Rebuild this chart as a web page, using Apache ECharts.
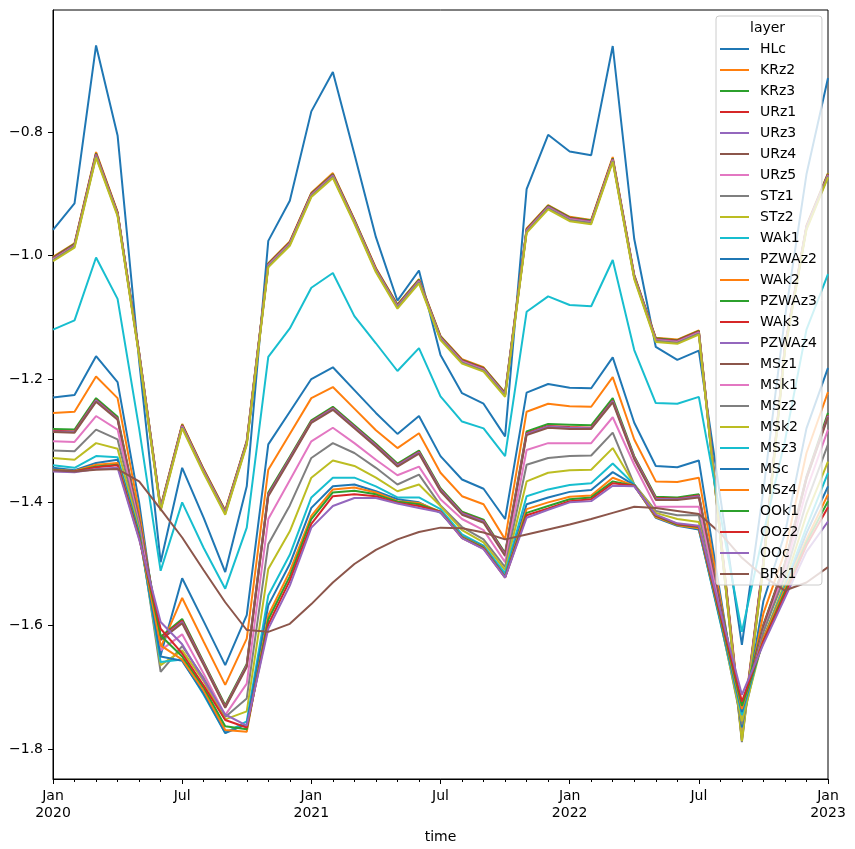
<!DOCTYPE html>
<html>
<head>
<meta charset="utf-8">
<script src="https://cdn.jsdelivr.net/npm/echarts@6/dist/echarts.min.js"></script>
<style>
  html, body { margin: 0; padding: 0; background: #fff; }
  #chart { width: 855px; height: 849px; }
</style>
</head>
<body>
<div id="chart"></div>
<script>
// monthly time axis, Jan 2020 .. Jan 2023
const months = [
  '2020-01','2020-02','2020-03','2020-04','2020-05','2020-06','2020-07','2020-08','2020-09','2020-10','2020-11','2020-12',
  '2021-01','2021-02','2021-03','2021-04','2021-05','2021-06','2021-07','2021-08','2021-09','2021-10','2021-11','2021-12',
  '2022-01','2022-02','2022-03','2022-04','2022-05','2022-06','2022-07','2022-08','2022-09','2022-10','2022-11','2022-12',
  '2023-01'
]
const xLabels = [
  'Jan\n2020','','','','','','Jul','','','','','',
  'Jan\n2021','','','','','','Jul','','','','','',
  'Jan\n2022','','','','','','Jul','','','','','',
  'Jan\n2023'
]
const yTicks = [-1.8, -1.6, -1.4, -1.2, -1.0, -0.8]

const layers = ['HLc','KRz2','KRz3','URz1','URz3','URz4','URz5','STz1','STz2','WAk1','PZWAz2','WAk2','PZWAz3','WAk3','PZWAz4','MSz1','MSk1','MSz2','MSk2','MSz3','MSc','MSz4','OOk1','OOz2','OOc','BRk1']

const HLc = [-0.958,-0.915,-0.659,-0.805,-1.170,-1.497,-1.344,-1.425,-1.513,-1.374,-0.976,-0.911,-0.766,-0.702,-0.835,-0.970,-1.073,-1.024,-1.161,-1.223,-1.240,-1.293,-0.892,-0.804,-0.831,-0.837,-0.660,-0.973,-1.148,-1.169,-1.154,-1.392,-1.631,-1.380,-1.100,-0.868,-0.712]
const KRz2 = [-1.002,-0.980,-0.832,-0.929,-1.156,-1.407,-1.273,-1.346,-1.413,-1.300,-1.012,-0.977,-0.898,-0.866,-0.941,-1.020,-1.079,-1.038,-1.130,-1.168,-1.181,-1.222,-0.956,-0.918,-0.937,-0.942,-0.840,-1.031,-1.133,-1.136,-1.121,-1.448,-1.772,-1.494,-1.145,-0.951,-0.866]
const KRz3 = [-1.003,-0.981,-0.834,-0.930,-1.157,-1.408,-1.274,-1.347,-1.414,-1.301,-1.013,-0.978,-0.899,-0.868,-0.942,-1.021,-1.080,-1.039,-1.131,-1.169,-1.182,-1.223,-0.957,-0.919,-0.938,-0.943,-0.842,-1.032,-1.134,-1.137,-1.122,-1.450,-1.776,-1.496,-1.147,-0.952,-0.867]
const URz1 = [-1.004,-0.982,-0.835,-0.931,-1.158,-1.409,-1.275,-1.348,-1.415,-1.302,-1.014,-0.979,-0.900,-0.869,-0.943,-1.022,-1.081,-1.040,-1.132,-1.170,-1.183,-1.224,-0.958,-0.920,-0.939,-0.944,-0.843,-1.033,-1.135,-1.138,-1.123,-1.451,-1.778,-1.497,-1.148,-0.953,-0.868]
const URz3 = [-1.005,-0.983,-0.836,-0.932,-1.159,-1.410,-1.276,-1.349,-1.416,-1.303,-1.015,-0.980,-0.901,-0.870,-0.944,-1.023,-1.082,-1.041,-1.133,-1.171,-1.184,-1.225,-0.959,-0.921,-0.940,-0.945,-0.844,-1.034,-1.136,-1.139,-1.124,-1.453,-1.780,-1.498,-1.149,-0.954,-0.869]
const URz4 = [-1.005,-0.983,-0.837,-0.932,-1.160,-1.411,-1.277,-1.350,-1.417,-1.304,-1.016,-0.981,-0.902,-0.871,-0.945,-1.024,-1.083,-1.042,-1.134,-1.172,-1.185,-1.226,-0.960,-0.922,-0.941,-0.946,-0.845,-1.035,-1.137,-1.140,-1.125,-1.456,-1.785,-1.500,-1.150,-0.955,-0.870]
const URz5 = [-1.006,-0.984,-0.838,-0.933,-1.160,-1.411,-1.277,-1.350,-1.417,-1.304,-1.016,-0.981,-0.902,-0.871,-0.945,-1.024,-1.083,-1.042,-1.134,-1.172,-1.185,-1.226,-0.960,-0.922,-0.941,-0.946,-0.845,-1.035,-1.137,-1.140,-1.125,-1.455,-1.782,-1.501,-1.151,-0.955,-0.870]
const STz1 = [-1.007,-0.985,-0.839,-0.934,-1.161,-1.412,-1.278,-1.351,-1.418,-1.305,-1.017,-0.982,-0.903,-0.872,-0.946,-1.025,-1.084,-1.043,-1.135,-1.173,-1.186,-1.227,-0.961,-0.923,-0.942,-0.947,-0.846,-1.036,-1.138,-1.141,-1.126,-1.458,-1.789,-1.503,-1.152,-0.956,-0.871]
const STz2 = [-1.009,-0.987,-0.841,-0.936,-1.163,-1.414,-1.280,-1.353,-1.420,-1.307,-1.019,-0.984,-0.905,-0.874,-0.948,-1.027,-1.086,-1.045,-1.137,-1.175,-1.188,-1.229,-0.963,-0.925,-0.944,-0.949,-0.848,-1.038,-1.140,-1.143,-1.128,-1.457,-1.787,-1.504,-1.154,-0.958,-0.873]
const WAk1 = [-1.120,-1.105,-1.003,-1.070,-1.280,-1.511,-1.400,-1.474,-1.540,-1.441,-1.164,-1.118,-1.052,-1.028,-1.098,-1.142,-1.187,-1.150,-1.228,-1.269,-1.280,-1.325,-1.091,-1.066,-1.080,-1.082,-1.007,-1.153,-1.239,-1.240,-1.229,-1.420,-1.610,-1.450,-1.300,-1.120,-1.030]
const PZWAz2 = [-1.230,-1.226,-1.163,-1.205,-1.400,-1.648,-1.523,-1.593,-1.664,-1.583,-1.306,-1.253,-1.200,-1.181,-1.218,-1.255,-1.289,-1.260,-1.325,-1.363,-1.378,-1.427,-1.222,-1.208,-1.214,-1.215,-1.165,-1.271,-1.341,-1.343,-1.332,-1.550,-1.765,-1.560,-1.450,-1.280,-1.182]
const WAk2 = [-1.255,-1.253,-1.196,-1.231,-1.415,-1.635,-1.555,-1.626,-1.696,-1.621,-1.347,-1.289,-1.231,-1.213,-1.248,-1.283,-1.312,-1.288,-1.352,-1.390,-1.403,-1.460,-1.253,-1.240,-1.244,-1.245,-1.197,-1.298,-1.366,-1.367,-1.360,-1.557,-1.755,-1.580,-1.480,-1.320,-1.221]
const PZWAz3 = [-1.281,-1.282,-1.231,-1.261,-1.428,-1.618,-1.589,-1.659,-1.729,-1.662,-1.384,-1.326,-1.267,-1.245,-1.275,-1.305,-1.337,-1.316,-1.377,-1.415,-1.428,-1.482,-1.285,-1.273,-1.274,-1.275,-1.231,-1.325,-1.391,-1.392,-1.387,-1.565,-1.734,-1.598,-1.498,-1.358,-1.255]
const WAk3 = [-1.284,-1.285,-1.234,-1.264,-1.430,-1.620,-1.592,-1.661,-1.731,-1.664,-1.387,-1.328,-1.269,-1.247,-1.277,-1.307,-1.339,-1.318,-1.379,-1.417,-1.430,-1.484,-1.288,-1.276,-1.278,-1.279,-1.235,-1.327,-1.393,-1.394,-1.389,-1.567,-1.745,-1.600,-1.500,-1.360,-1.259]
const PZWAz4 = [-1.285,-1.286,-1.235,-1.265,-1.431,-1.622,-1.594,-1.662,-1.732,-1.665,-1.388,-1.329,-1.270,-1.248,-1.278,-1.308,-1.340,-1.319,-1.380,-1.418,-1.431,-1.485,-1.289,-1.277,-1.279,-1.280,-1.236,-1.328,-1.394,-1.395,-1.390,-1.568,-1.748,-1.602,-1.502,-1.361,-1.260]
const MSz1 = [-1.286,-1.287,-1.237,-1.266,-1.432,-1.623,-1.596,-1.664,-1.733,-1.667,-1.390,-1.331,-1.271,-1.250,-1.280,-1.310,-1.342,-1.321,-1.382,-1.420,-1.433,-1.487,-1.291,-1.279,-1.281,-1.281,-1.238,-1.330,-1.396,-1.396,-1.392,-1.570,-1.750,-1.603,-1.503,-1.362,-1.262]
const MSk1 = [-1.301,-1.302,-1.260,-1.282,-1.435,-1.640,-1.614,-1.678,-1.745,-1.694,-1.427,-1.364,-1.301,-1.279,-1.304,-1.331,-1.356,-1.342,-1.395,-1.427,-1.445,-1.497,-1.315,-1.304,-1.304,-1.304,-1.262,-1.339,-1.407,-1.407,-1.407,-1.578,-1.750,-1.610,-1.510,-1.380,-1.282]
const MSz2 = [-1.316,-1.317,-1.282,-1.298,-1.440,-1.675,-1.633,-1.685,-1.748,-1.718,-1.468,-1.405,-1.328,-1.304,-1.320,-1.344,-1.371,-1.355,-1.405,-1.440,-1.460,-1.505,-1.339,-1.328,-1.325,-1.324,-1.287,-1.371,-1.414,-1.421,-1.421,-1.590,-1.760,-1.610,-1.520,-1.400,-1.306]
const MSk2 = [-1.328,-1.331,-1.304,-1.313,-1.445,-1.664,-1.640,-1.690,-1.752,-1.739,-1.508,-1.447,-1.360,-1.332,-1.341,-1.360,-1.382,-1.371,-1.406,-1.445,-1.465,-1.510,-1.366,-1.352,-1.348,-1.347,-1.312,-1.371,-1.417,-1.427,-1.432,-1.593,-1.755,-1.620,-1.530,-1.420,-1.334]
const MSz3 = [-1.340,-1.344,-1.325,-1.327,-1.450,-1.659,-1.655,-1.712,-1.774,-1.755,-1.551,-1.485,-1.392,-1.360,-1.360,-1.374,-1.392,-1.392,-1.411,-1.452,-1.470,-1.515,-1.390,-1.379,-1.372,-1.369,-1.337,-1.371,-1.424,-1.435,-1.444,-1.595,-1.745,-1.620,-1.535,-1.440,-1.352]
const MSc = [-1.344,-1.348,-1.336,-1.331,-1.450,-1.650,-1.657,-1.710,-1.774,-1.760,-1.567,-1.500,-1.409,-1.374,-1.371,-1.382,-1.395,-1.400,-1.417,-1.455,-1.472,-1.520,-1.403,-1.392,-1.383,-1.380,-1.351,-1.372,-1.425,-1.438,-1.444,-1.592,-1.740,-1.620,-1.540,-1.450,-1.374]
const MSz4 = [-1.347,-1.349,-1.339,-1.336,-1.455,-1.632,-1.655,-1.705,-1.769,-1.772,-1.583,-1.512,-1.422,-1.379,-1.376,-1.384,-1.398,-1.401,-1.415,-1.456,-1.473,-1.521,-1.411,-1.400,-1.391,-1.389,-1.360,-1.373,-1.424,-1.437,-1.442,-1.588,-1.735,-1.620,-1.540,-1.460,-1.387]
const OOk1 = [-1.348,-1.350,-1.342,-1.339,-1.455,-1.616,-1.650,-1.700,-1.763,-1.768,-1.590,-1.520,-1.427,-1.384,-1.381,-1.387,-1.399,-1.403,-1.415,-1.457,-1.474,-1.521,-1.417,-1.406,-1.395,-1.392,-1.366,-1.373,-1.422,-1.436,-1.440,-1.585,-1.730,-1.625,-1.545,-1.465,-1.398]
const OOz2 = [-1.349,-1.350,-1.343,-1.340,-1.458,-1.605,-1.645,-1.697,-1.753,-1.765,-1.598,-1.527,-1.435,-1.390,-1.387,-1.390,-1.401,-1.406,-1.415,-1.458,-1.475,-1.522,-1.421,-1.410,-1.398,-1.395,-1.369,-1.373,-1.421,-1.435,-1.439,-1.582,-1.723,-1.625,-1.550,-1.470,-1.408]
const OOc = [-1.350,-1.351,-1.346,-1.344,-1.460,-1.594,-1.630,-1.688,-1.744,-1.762,-1.605,-1.535,-1.441,-1.406,-1.393,-1.393,-1.402,-1.409,-1.416,-1.458,-1.476,-1.522,-1.425,-1.412,-1.400,-1.398,-1.373,-1.374,-1.420,-1.434,-1.438,-1.576,-1.712,-1.630,-1.555,-1.480,-1.431]
const BRk1 = [-1.348,-1.350,-1.347,-1.346,-1.366,-1.411,-1.457,-1.510,-1.562,-1.607,-1.610,-1.597,-1.565,-1.530,-1.500,-1.477,-1.460,-1.448,-1.441,-1.442,-1.449,-1.460,-1.452,-1.444,-1.436,-1.427,-1.417,-1.407,-1.409,-1.414,-1.419,-1.450,-1.490,-1.520,-1.543,-1.530,-1.505]

const values = [HLc, KRz2, KRz3, URz1, URz3, URz4, URz5, STz1, STz2, WAk1, PZWAz2, WAk2, PZWAz3, WAk3, PZWAz4, MSz1, MSk1, MSz2, MSk2, MSz3, MSc, MSz4, OOk1, OOz2, OOc, BRk1]

// matplotlib tab10 cycle
const tab10 = ['#1f77b4','#ff7f0e','#2ca02c','#d62728','#9467bd','#8c564b','#e377c2','#7f7f7f','#bcbd22','#17becf']

const font = 'DejaVu Sans'
const chart = echarts.init(document.getElementById('chart'), null, { renderer: 'canvas' })

const option = {
  animation: false,
  backgroundColor: '#fff',
  grid: {
    left: 53, right: 27, top: 10, bottom: 69,
    show: true, borderColor: '#000', borderWidth: 1
  },
  xAxis: [
    {
      type: 'category',
      data: months,
      boundaryGap: false,
      position: 'bottom',
      name: 'time',
      nameLocation: 'middle',
      nameGap: 51,
      nameTextStyle: { fontFamily: font, fontSize: 14, color: '#000' },
      axisLine: { lineStyle: { color: '#000', width: 1 } },
      axisTick: {
        length: 5,
        lineStyle: { color: '#000', width: 1 },
        interval: (i) => xLabels[i] !== ''
      },
      axisLabel: {
        interval: 0,
        margin: 9,
        fontFamily: font, fontSize: 14, color: '#000', lineHeight: 17,
        formatter: (v, i) => xLabels[i]
      },
      splitLine: { show: false }
    },
    {
      // minor month ticks
      type: 'category',
      data: months,
      boundaryGap: false,
      position: 'bottom',
      axisLine: { show: false },
      axisTick: { length: 3, interval: 0, lineStyle: { color: '#000', width: 1 } },
      axisLabel: { show: false },
      splitLine: { show: false }
    }
  ],
  yAxis: {
    type: 'value',
    min: -1.8486,
    max: -0.6016,
    axisLine: { show: true, lineStyle: { color: '#000', width: 1 } },
    axisTick: { show: true, length: 5, customValues: yTicks, lineStyle: { color: '#000', width: 1 } },
    axisLabel: {
      customValues: yTicks,
      margin: 10,
      fontFamily: font, fontSize: 14, color: '#000',
      formatter: (v) => (v < 0 ? '\u2212' : '') + Math.abs(v).toFixed(1)
    },
    splitLine: { show: false }
  },
  legend: {
    orient: 'vertical',
    left: 716,
    top: 16,
    padding: [26, 5, 4, 4],
    itemWidth: 29,
    itemHeight: 2,
    itemGap: 7,
    icon: 'rect',
    selectedMode: false,
    backgroundColor: 'rgba(255,255,255,0.8)',
    borderColor: '#cccccc',
    borderWidth: 1,
    borderRadius: 3,
    textStyle: { fontFamily: font, fontSize: 14, color: '#000', lineHeight: 14, padding: [0, 0, 0, 6] },
    data: layers
  },
  graphic: [
    {
      type: 'text',
      z: 100,
      left: 769 - 19,
      top: 21,
      style: { text: 'layer', font: '14px "DejaVu Sans"', fill: '#000' }
    }
  ],
  series: layers.map((name, i) => ({
    name,
    type: 'line',
    data: values[i],
    symbol: 'none',
    showSymbol: false,
    lineStyle: { width: 2, color: tab10[i % 10] },
    itemStyle: { color: tab10[i % 10] },
    emphasis: { disabled: true },
    z: 2
  }))
}

chart.setOption(option)
</script>
</body>
</html>
